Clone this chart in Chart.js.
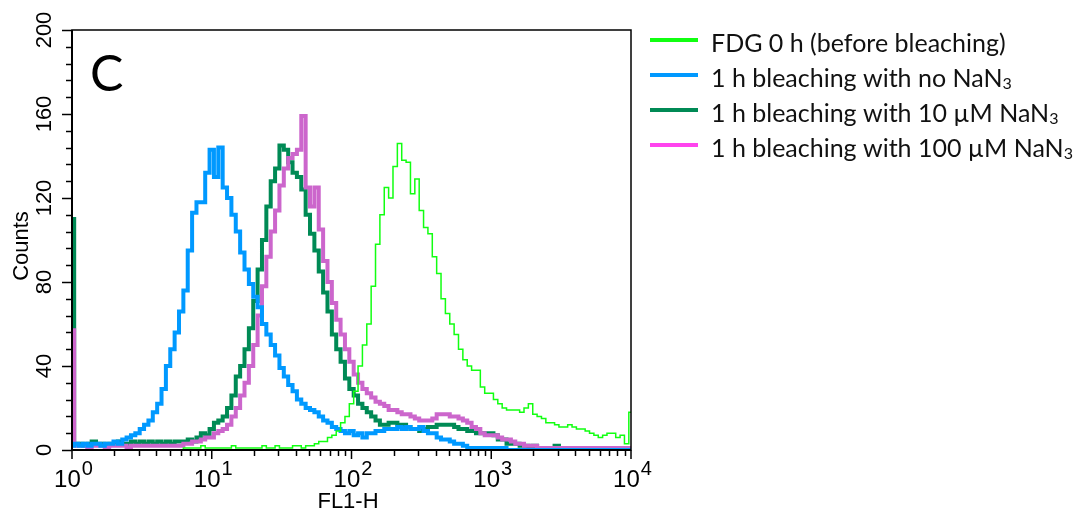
<!DOCTYPE html>
<html>
<head>
<meta charset="utf-8">
<script src="https://cdn.jsdelivr.net/npm/chart.js@4.4.0/dist/chart.umd.min.js"></script>
<style>
  body { margin: 0; background: #fff; }
  #wrap { width: 1091px; height: 512px; position: relative; }
</style>
</head>
<body>
<div id="wrap"><canvas id="histo"></canvas></div>
<script>
// FL1-H histogram, 32 channels per decade (channel 0 = 10^0 ... channel 128 = 10^4)
const channelsPerDecade = 32;

const fdgCounts = [
  0,0,0,0,0,0,0,0,0,0, 0,0,0,0,0,0,0,0,0,0, 0,0,0,0,0,0,1,1,1,1,
  2,1,1,1,1,1,1,2,1,1, 1,1,1,1,2,1,1,2,1,1, 1,2,2,1,2,2,3,4,4,6,
  7,9,13,16,22,28,40,50,60,78, 98,112,125,120,135,146,138,137,122,129,
  114,106,103,92,84,72,65,60,55,48, 43,40,38,38,30,27,27,24,22,20,
  19,19,19,18,20,22,17,16,15,13, 13,12,11,11,12,11,10,10,9,8,
  7,6,7,8,8,6,7,3,18
];
const noAzideCounts = [
  2,3,2,3,2,3,3,2,3,3, 4,3,5,6,7,8,10,12,14,18,
  22,29,40,48,56,66,76,95,113,118, 118,132,143,130,144,125,120,112,104,94,
  86,79,73,68,60,55,50,45,39,35, 31,28,24,22,20,19,18,16,14,13,
  11,10,9,8,9,7,8,6,8,8, 9,9,10,10,10,11,10,11,10,10,
  11,9,8,8,6,5,5,4,3,3, 2,1,1,1,1,1,1,1,1,1,
  0,0,0,0,0,0,0,0,0,0, 0,0,0,0,0,0,0,0,0,0, 0,0,0,0,0,0,0,0,0
];
const azide10Counts = [
  110,3,3,2,3,4,3,3,2,3, 3,4,3,3,4,3,4,3,4,3,
  4,3,4,3,4,4,4,5,4,6, 8,7,10,13,14,16,20,26,35,40,
  48,58,71,86,100,116,128,134,145,143, 137,132,130,124,112,103,95,85,75,66,
  55,48,42,34,29,26,22,20,18,16, 14,12,12,13,13,12,12,11,10,10,
  9,10,11,11,12,12,12,12,11,10, 10,9,9,8,8,8,8,7,5,5,
  3,3,3,2,2,1,2,1,1,1, 1,2,1,1,0,0,0,0,0,0, 0,0,0,0,0,0,0,0,0
];
const azide100Counts = [
  57,2,2,2,1,2,2,2,1,2, 2,2,2,1,2,2,2,2,2,2,
  2,2,2,2,2,2,3,3,4,4, 5,6,6,8,9,10,12,16,20,26,
  32,40,50,64,78,92,104,114,126,134, 139,141,143,159,125,116,125,105,90,80,
  70,62,55,48,42,36,32,29,27,25, 23,22,21,19,19,18,17,17,16,15,
  14,14,14,15,17,17,17,16,16,15, 14,13,11,10,8,7,7,7,6,5,
  5,4,3,3,2,2,2,1,1,1, 1,1,1,1,1,1,1,1,1,1, 1,1,1,1,1,1,1,1,1
];

const seriesLabels = [
  'FDG 0 h (before bleaching)',
  '1 h bleaching with no NaN₃',
  '1 h bleaching with 10 µM NaN₃',
  '1 h bleaching with 100 µM NaN₃'
];
const lineColors = ['#11ff11', '#0099ff', '#008a55', '#cc66cc'];
const legendColors = ['#11ff11', '#0099ff', '#008a55', '#ff44ee'];

const xDecades = ['0', '1', '2', '3', '4'];
const yTickLabels = [0, 40, 80, 120, 160, 200];
const yMinorStep = 8;
const panelLetter = 'C';

function toPoints(counts) {
  return counts.map((c, i) => ({ x: 10 ** (i / channelsPerDecade), y: c }));
}

const narrow = '"Liberation Sans Narrow", "Liberation Sans", Arial, sans-serif';
const gill = 'Lato, "Open Sans", sans-serif';

const framePlugin = {
  id: 'frame',
  beforeDraw(chart) {
    const ctx = chart.ctx;
    ctx.save();
    ctx.fillStyle = '#fff';
    ctx.fillRect(0, 0, chart.width, chart.height);
    ctx.restore();
  },
  afterDraw(chart) {
    const { ctx, chartArea: a, scales: { x, y } } = chart;
    ctx.save();
    ctx.strokeStyle = '#000';
    ctx.fillStyle = '#000';

    // box
    ctx.lineWidth = 1.5;
    ctx.strokeRect(a.left, a.top, a.right - a.left, a.bottom - a.top);
    ctx.lineWidth = 2;
    ctx.beginPath();
    ctx.moveTo(a.left, a.top);
    ctx.lineTo(a.left, a.bottom);
    ctx.lineTo(a.right, a.bottom);
    ctx.stroke();

    // y ticks
    ctx.lineWidth = 1.5;
    for (let v = 0; v <= 200; v += yMinorStep) {
      const py = Math.round(y.getPixelForValue(v)) + 0.5;
      const len = yTickLabels.includes(v) ? 10 : 6;
      ctx.beginPath();
      ctx.moveTo(a.left - len, py);
      ctx.lineTo(a.left, py);
      ctx.stroke();
    }
    ctx.font = '22px ' + narrow;
    ctx.textAlign = 'center';
    ctx.textBaseline = 'middle';
    yTickLabels.forEach(v => {
      ctx.save();
      ctx.translate(45, y.getPixelForValue(v));
      ctx.rotate(-Math.PI / 2);
      ctx.fillText(String(v), 0, 0);
      ctx.restore();
    });
    ctx.save();
    ctx.font = '22px ' + narrow;
    ctx.translate(22, 246);
    ctx.rotate(-Math.PI / 2);
    ctx.fillText('Counts', 0, 0);
    ctx.restore();

    // x ticks (log)
    for (let d = 0; d < xDecades.length; d++) {
      const base = 10 ** d;
      const px = x.getPixelForValue(base);
      ctx.beginPath();
      ctx.moveTo(px, a.bottom);
      ctx.lineTo(px, a.bottom + 9);
      ctx.stroke();
      if (d < xDecades.length - 1) {
        for (let m = 2; m <= 9; m++) {
          const mx = Math.round(x.getPixelForValue(m * base)) + 0.5;
          ctx.beginPath();
          ctx.moveTo(mx, a.bottom);
          ctx.lineTo(mx, a.bottom + 6);
          ctx.stroke();
        }
      }
      ctx.textAlign = 'left';
      ctx.textBaseline = 'alphabetic';
      ctx.font = '24px ' + narrow;
      const w1 = ctx.measureText('10').width;
      ctx.font = '20px ' + narrow;
      const w2 = ctx.measureText(xDecades[d]).width;
      const start = px - (w1 + w2) / 2 + 1;
      ctx.font = '24px ' + narrow;
      ctx.fillText('10', start, 487);
      ctx.font = '20px ' + narrow;
      ctx.fillText(xDecades[d], start + w1 + 1, 475);
    }
    ctx.font = '22px ' + narrow;
    ctx.textAlign = 'center';
    ctx.fillText('FL1-H', 348, 508);

    // panel letter
    ctx.font = '50px ' + gill;
    ctx.textAlign = 'left';
    ctx.fillText(panelLetter, 90, 91);

    // legend
    ctx.textBaseline = 'middle';
    seriesLabels.forEach((label, i) => {
      const ly = 40 + i * 35;
      ctx.strokeStyle = legendColors[i];
      ctx.lineWidth = 4;
      ctx.beginPath();
      ctx.moveTo(650, ly);
      ctx.lineTo(698, ly);
      ctx.stroke();
      ctx.fillStyle = '#111';
      let main = label, sub = '';
      if (label.endsWith('₃')) { main = label.slice(0, -1); sub = '3'; }
      ctx.font = '25px ' + gill;
      ctx.fillText(main, 711, ly + 4);
      if (sub) {
        const w = ctx.measureText(main).width;
        ctx.font = '16px ' + gill;
        ctx.fillText(sub, 711 + w, ly + 9);
      }
    });
    ctx.restore();
  }
};

const series = [fdgCounts, noAzideCounts, azide10Counts, azide100Counts];
const widths = [1.5, 4, 4, 4];
const drawOrder = [0, 1, 3, 2];

new Chart(document.getElementById('histo'), {
  type: 'line',
  data: {
    datasets: series.map((counts, i) => ({
      label: seriesLabels[i],
      data: toPoints(counts),
      borderColor: lineColors[i],
      borderWidth: widths[i],
      pointRadius: 0,
      stepped: 'middle',
      fill: false,
      order: drawOrder[i]
    }))
  },
  options: {
    responsive: true,
    maintainAspectRatio: false,
    animation: false,
    layout: { padding: { left: 72, top: 30, right: 460, bottom: 62 } },
    scales: {
      x: { type: 'logarithmic', min: 1, max: 10000, display: false },
      y: { type: 'linear', min: 0, max: 200, display: false }
    },
    plugins: {
      legend: { display: false },
      tooltip: { enabled: false }
    }
  },
  plugins: [framePlugin]
});
</script>
</body>
</html>
